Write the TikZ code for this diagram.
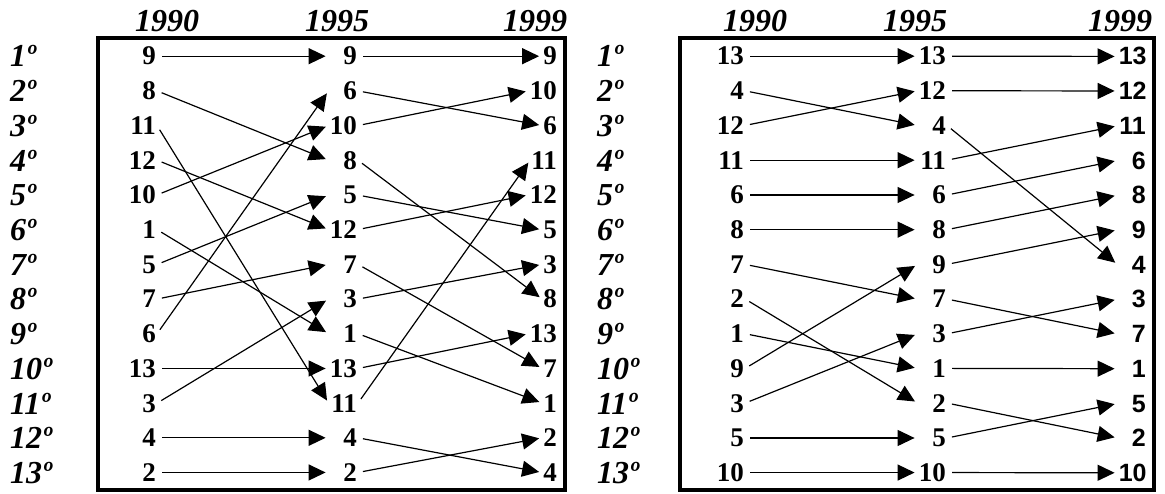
\documentclass[tikz,border=0pt]{standalone}
\usepackage{fontspec}
\setmainfont{Liberation Serif}
\newfontfamily\arialfont{Liberation Sans}
\usetikzlibrary{arrows.meta}

\begin{document}
\begin{tikzpicture}[
  x=1pt, y=-1pt,
  rank/.style={anchor=base west, inner sep=0pt, font=\fontsize{32}{36}\selectfont\bfseries\itshape},
  year/.style={anchor=base west, inner sep=0pt, font=\fontsize{32}{36}\selectfont\bfseries\itshape},
  num/.style={anchor=base east, inner sep=1pt, font=\fontsize{27}{30}\selectfont\bfseries},
  numw/.style={num, text width=27pt, align=right},
  sansnum/.style={numw, font=\fontsize{25}{30}\selectfont\arialfont\bfseries},
  frame/.style={line width=3.5pt},
  arr/.style={-{Triangle[length=17pt,width=16pt]}, line width=1.2pt, shorten <=5pt, shorten >=3pt}
]
\useasboundingbox (0,0) rectangle (1165,494);

% frames
\draw[frame] (98,38) rectangle (565,490);
\draw[frame] (680,38) rectangle (1154,490);

% year headings
\node[year] (L-y1) at (135,32) {1990};
\node[year] (L-y2) at (305,32) {1995};
\node[year] (L-y3) at (503,32) {1999};
\node[year] (R-y1) at (723,32) {1990};
\node[year] (R-y2) at (883,32) {1995};
\node[year] (R-y3) at (1088,32) {1999};

% ranks
\foreach \n in {1,...,13} {
  \node[rank] (L-r\n) at (10,32.3+34.7*\n) {{\n}º};
  \node[rank] (R-r\n) at (597,32.3+34.7*\n) {{\n}º};
}

% left table
\foreach \v [count=\n] in {9,8,11,12,10,1,5,7,6,13,3,4,2}
  \node[num] (L-a-\v) at (157,30.3+34.7*\n) {\v};
\foreach \v [count=\n] in {9,6,10,8,5,12,7,3,1,13,11,4,2}
  \node[numw] (L-b-\v) at (358,30.3+34.7*\n) {\v};
\foreach \v [count=\n] in {9,10,6,11,12,5,3,8,13,7,1,2,4}
  \node[num] (L-c-\v) at (558,30.3+34.7*\n) {\v};

% right table
\foreach \v [count=\n] in {13,4,12,11,6,8,7,2,1,9,3,5,10}
  \node[num] (R-a-\v) at (745,30.3+34.7*\n) {\v};
\foreach \v [count=\n] in {13,12,4,11,6,8,9,7,3,1,2,5,10}
  \node[numw] (R-b-\v) at (947,30.3+34.7*\n) {\v};
\foreach \v [count=\n] in {13,12,11,6,8,9,4,3,7,1,5,2,10}
  \node[sansnum] (R-c-\v) at (1147,30.3+34.7*\n) {\v};

% arrows
\foreach \v in {1,...,13} {
  \draw[arr] (L-a-\v.east) -- (L-b-\v.west);
  \draw[arr] (L-b-\v.east) -- (L-c-\v.west);
  \draw[arr] (R-a-\v.east) -- (R-b-\v.west);
  \draw[arr] (R-b-\v.east) -- (R-c-\v.west);
}
\end{tikzpicture}
\end{document}
